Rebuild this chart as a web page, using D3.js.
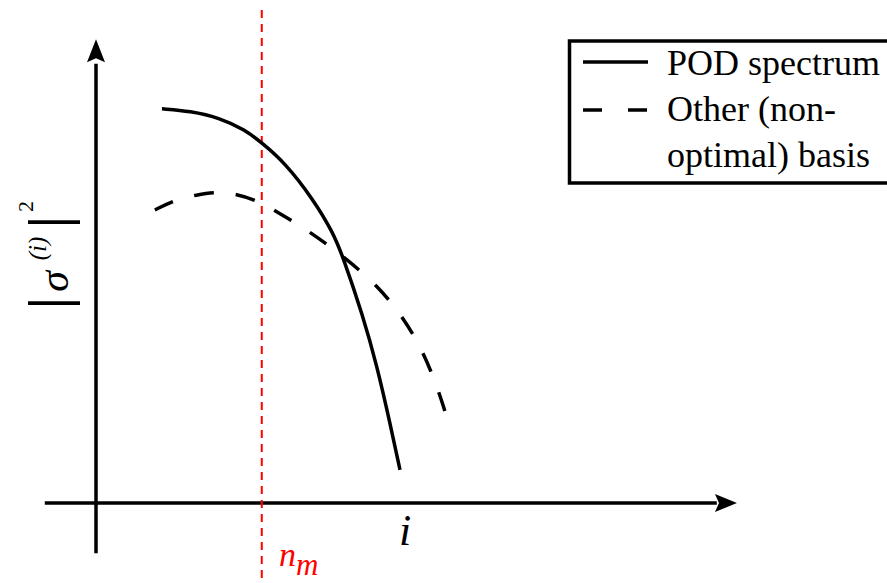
<!DOCTYPE html>
<html>
<head>
<meta charset="utf-8">
<script src="https://cdn.jsdelivr.net/npm/d3@7/dist/d3.min.js"></script>
<style>
  html, body { margin: 0; padding: 0; background: #fff; }
  svg { display: block; }
</style>
</head>
<body>
<svg id="chart" width="887" height="583"></svg>
<script>
// Mode index i and energy |sigma^(i)|^2 (arbitrary units, 0–100)
const podIndex  = [10.3, 14.7, 19.4, 23.3, 25.9, 29.5, 33.9, 37.0, 38.6, 41.7, 43.9, 45.9, 47.5];
const podEnergy = [85.7, 85.2, 83.7, 81.1, 78.3, 74.0, 66.1, 58.9, 53.5, 40.7, 29.8, 17.6, 7.2];

const otherIndex  = [9.2, 12.3, 15.8, 18.6, 22.0, 25.2, 28.3, 33.75, 38.9, 43.9, 48.0, 51.25, 53.6, 54.5];
const otherEnergy = [63.7, 65.9, 67.0, 67.6, 67.2, 65.7, 63.3, 58.7, 53.3, 47.4, 40.4, 32.6, 24.1, 20.0];

// Truncation index n_m
const nmIndex = 25.9;

const legendLabels = ["POD spectrum", "Other (non-", "optimal) basis"];

const SERIF = '"Liberation Serif"';

const svg = d3.select("#chart");
const W = 887, H = 583;
svg.append("rect").attr("width", W).attr("height", H).attr("fill", "#fff");

const x = d3.scaleLinear().domain([0, 100]).range([96, 736]);
const y = d3.scaleLinear().domain([0, 100]).range([503, 43]);

const ink = "#000";
const lw = 3.5;

// Axes (extend slightly past the origin, arrowheads at the ends)
const x0 = x(0), y0 = y(0);
svg.append("line")
  .attr("x1", x(-8)).attr("x2", x(97)).attr("y1", y0).attr("y2", y0)
  .attr("stroke", ink).attr("stroke-width", lw);
svg.append("line")
  .attr("x1", x0).attr("x2", x0).attr("y1", y(-10.9)).attr("y2", y(95.5))
  .attr("stroke", ink).attr("stroke-width", lw);

// arrowheads
const xTip = x(100.15), yTip = y(100.8);
svg.append("path")
  .attr("d", `M${xTip},${y0} L${xTip - 22},${y0 - 9} L${xTip - 18},${y0} L${xTip - 22},${y0 + 9} Z`)
  .attr("fill", ink);
svg.append("path")
  .attr("d", `M${x0},${yTip} L${x0 - 9},${yTip + 23} L${x0},${yTip + 19} L${x0 + 9},${yTip + 23} Z`)
  .attr("fill", ink);

// Truncation line n_m
svg.append("line")
  .attr("x1", x(nmIndex)).attr("x2", x(nmIndex))
  .attr("y1", 10).attr("y2", H)
  .attr("stroke", "#ff0000").attr("stroke-width", 2)
  .attr("stroke-dasharray", "8,6");

const line = d3.line()
  .x(d => x(d[0])).y(d => y(d[1]))
  .curve(d3.curveBasis);

// POD spectrum
svg.append("path")
  .datum(d3.zip(podIndex, podEnergy))
  .attr("d", line)
  .attr("fill", "none").attr("stroke", ink).attr("stroke-width", lw);

// Non-optimal basis spectrum: dashes spread so the curve starts and ends on a dash
const other = svg.append("path")
  .datum(d3.zip(otherIndex, otherEnergy))
  .attr("d", line)
  .attr("fill", "none").attr("stroke", ink).attr("stroke-width", lw);
{
  const L = other.node().getTotalLength();
  const dash = 20, gap0 = 20.5;
  const n = Math.max(2, Math.round((L + gap0) / (dash + gap0)));
  const gap = (L - n * dash) / (n - 1);
  other.attr("stroke-dasharray", `${dash},${gap}`);
}

// Axis labels
svg.append("text")
  .attr("x", 405).attr("y", 545)
  .attr("text-anchor", "middle")
  .style("font-family", SERIF).style("font-style", "italic")
  .style("font-size", "44px").attr("fill", ink)
  .text("i");

const nm = svg.append("text")
  .attr("x", 279).attr("y", 566)
  .style("font-family", SERIF).style("font-style", "italic")
  .attr("fill", "#ff0000");
nm.append("tspan").style("font-size", "34px").text("n");
nm.append("tspan").style("font-size", "31px").attr("dy", 9).text("m");

// |sigma^(i)|^2, rotated along the vertical axis
const yl = svg.append("g").attr("transform", "rotate(-90)");
const piece = (cx, base, size, txt, italic, weight) =>
  yl.append("text")
    .attr("x", -cx).attr("y", base)
    .attr("text-anchor", "middle")
    .style("font-family", SERIF)
    .style("font-style", italic ? "italic" : "normal")
    .style("font-weight", weight || "normal")
    .style("font-size", size + "px").attr("fill", ink)
    .text(txt);
piece(303, 68, 56, "|", false, "bold");
piece(281.5, 68, 42, "σ", true);
piece(248.5, 45.5, 25, "(i)", true);
piece(222, 68, 56, "|", false, "bold");
piece(206.5, 33, 22, "2", false);

// Legend
const lg = svg.append("g");
lg.append("rect")
  .attr("x", 569.5).attr("y", 41).attr("width", 340).attr("height", 142)
  .attr("fill", "#fff").attr("stroke", ink).attr("stroke-width", lw);
lg.append("line")
  .attr("x1", 583).attr("x2", 648).attr("y1", 62).attr("y2", 62)
  .attr("stroke", ink).attr("stroke-width", lw);
lg.append("line")
  .attr("x1", 583).attr("x2", 647).attr("y1", 110).attr("y2", 110)
  .attr("stroke", ink).attr("stroke-width", lw)
  .attr("stroke-dasharray", "19,26");
lg.selectAll("text.leg")
  .data(legendLabels)
  .enter().append("text")
  .attr("class", "leg")
  .attr("x", 667)
  .attr("y", (d, i) => 75 + i * 46)
  .style("font-family", SERIF)
  .style("font-size", "36px").attr("fill", ink)
  .text(d => d);
</script>
</body>
</html>
